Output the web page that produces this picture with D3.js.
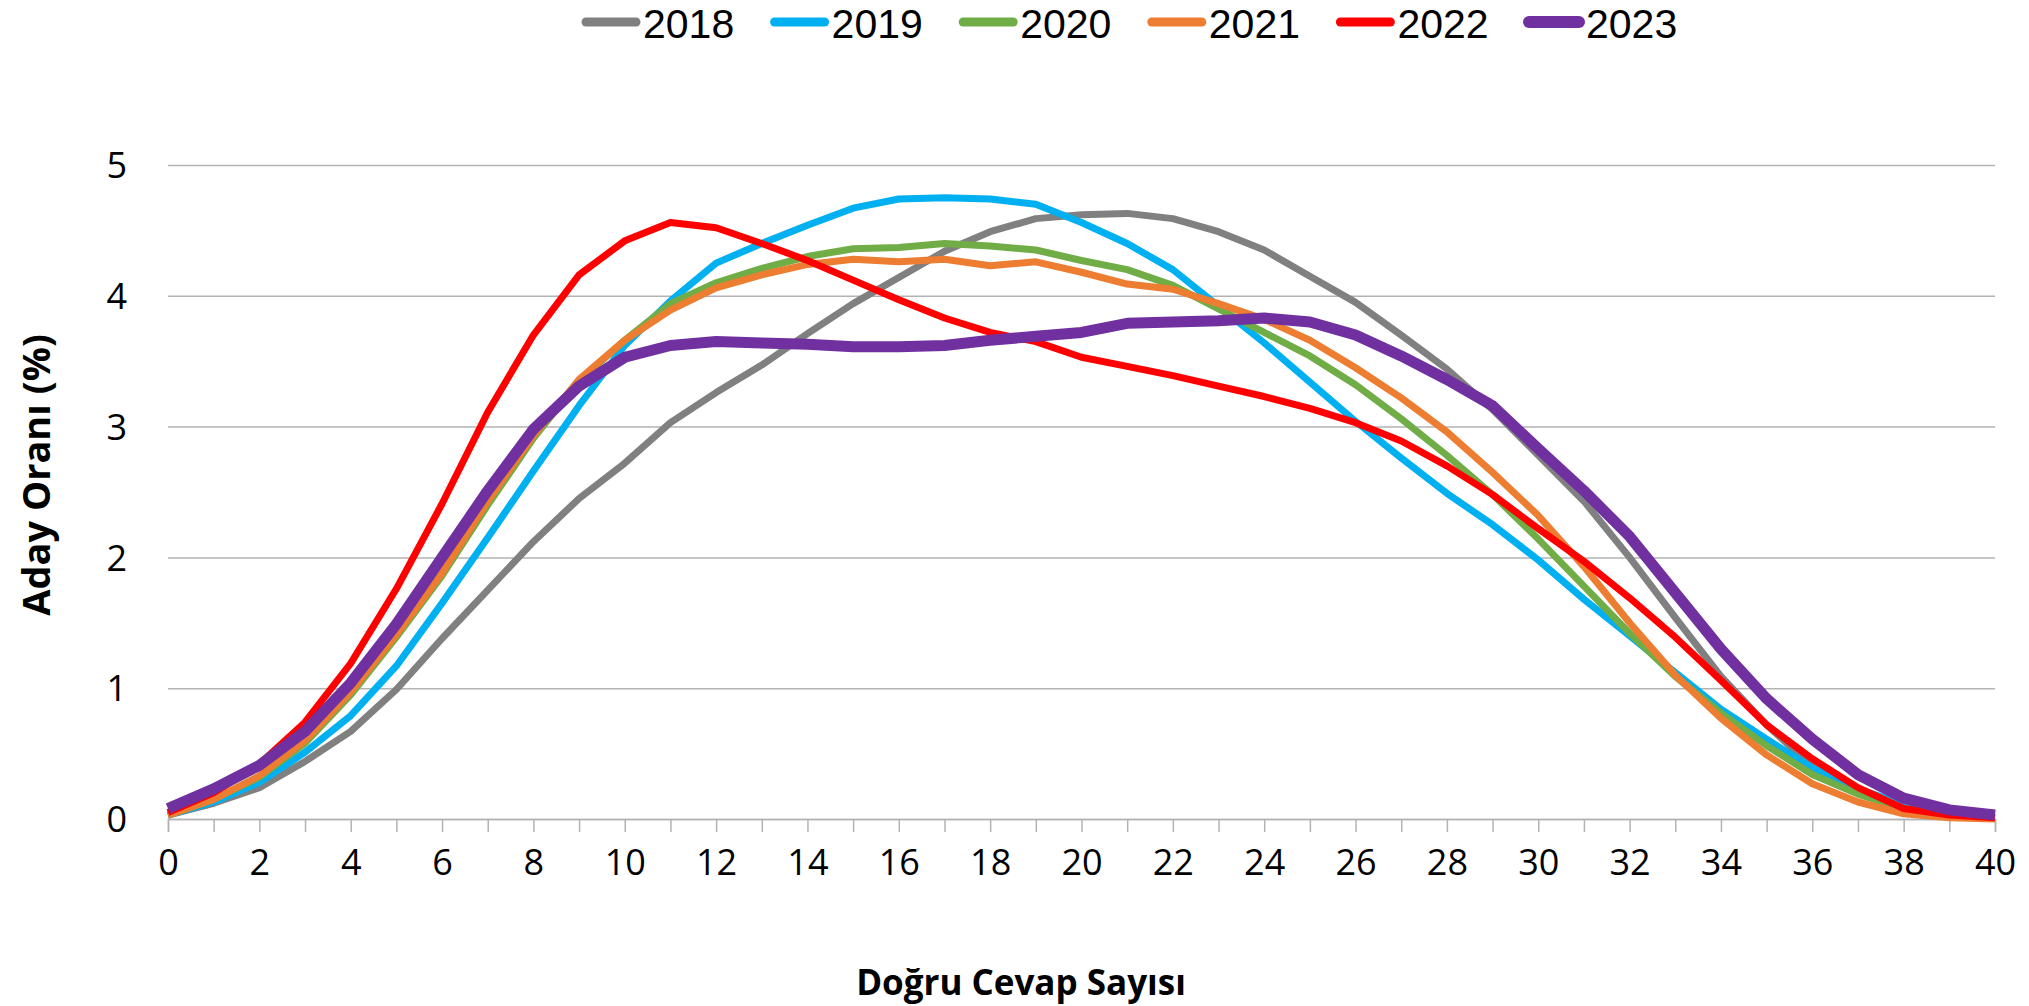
<!DOCTYPE html>
<html>
<head>
<meta charset="utf-8">
<script src="https://cdn.jsdelivr.net/npm/d3@7"></script>
<style>
  body { margin: 0; background: #fff; }
  svg text { font-family: "Open Sans", "Noto Sans", sans-serif; fill: #000; }
  svg text.legend-label { font-family: "Liberation Sans", Arial, sans-serif; }
</style>
</head>
<body>
<svg id="chart" width="2029" height="1006"></svg>
<script>
// number of correct answers, 0..40
var answers = d3.range(0, 41);
var years = ["2018", "2019", "2020", "2021", "2022", "2023"];
var colors = ["#808080", "#00B0F0", "#70AD47", "#ED7D31", "#FF0000", "#7030A0"];

var v2018 = [0.03, 0.12, 0.24, 0.44, 0.67, 0.99, 1.38, 1.75, 2.12, 2.45, 2.72, 3.03, 3.26, 3.47, 3.71, 3.94, 4.14, 4.34, 4.49, 4.59, 4.62,
             4.63, 4.59, 4.49, 4.35, 4.15, 3.95, 3.70, 3.44, 3.13, 2.78, 2.43, 2.00, 1.54, 1.09, 0.72, 0.40, 0.20, 0.08, 0.03, 0.01];
var v2019 = [0.03, 0.13, 0.28, 0.51, 0.79, 1.17, 1.65, 2.15, 2.66, 3.16, 3.62, 3.96, 4.25, 4.40, 4.54, 4.67, 4.74, 4.75, 4.74, 4.70, 4.56,
             4.40, 4.20, 3.92, 3.64, 3.34, 3.04, 2.76, 2.49, 2.25, 1.98, 1.68, 1.40, 1.12, 0.84, 0.61, 0.39, 0.23, 0.11, 0.04, 0.01];
var v2020 = [0.03, 0.15, 0.32, 0.58, 0.95, 1.39, 1.86, 2.40, 2.91, 3.35, 3.66, 3.94, 4.10, 4.21, 4.30, 4.36, 4.37, 4.40, 4.38, 4.35, 4.27,
             4.20, 4.08, 3.90, 3.72, 3.54, 3.32, 3.06, 2.78, 2.48, 2.14, 1.78, 1.42, 1.09, 0.81, 0.56, 0.34, 0.19, 0.08, 0.03, 0.01];
var v2021 = [0.03, 0.15, 0.33, 0.60, 0.97, 1.41, 1.88, 2.43, 2.93, 3.36, 3.66, 3.89, 4.06, 4.16, 4.24, 4.28, 4.26, 4.28, 4.23, 4.26, 4.18,
             4.09, 4.05, 3.94, 3.82, 3.66, 3.45, 3.22, 2.96, 2.65, 2.32, 1.93, 1.50, 1.10, 0.77, 0.49, 0.27, 0.13, 0.04, 0.01, 0.00];
var v2022 = [0.05, 0.20, 0.42, 0.74, 1.19, 1.76, 2.41, 3.11, 3.70, 4.16, 4.42, 4.56, 4.52, 4.40, 4.27, 4.12, 3.97, 3.83, 3.72, 3.65, 3.53,
             3.46, 3.39, 3.31, 3.23, 3.14, 3.03, 2.89, 2.70, 2.48, 2.22, 1.97, 1.69, 1.39, 1.06, 0.72, 0.46, 0.24, 0.08, 0.03, 0.01];
var v2023 = [0.08, 0.23, 0.41, 0.67, 1.04, 1.49, 2.00, 2.51, 2.98, 3.31, 3.53, 3.62, 3.65, 3.64, 3.63, 3.61, 3.61, 3.62, 3.66, 3.69, 3.72,
             3.79, 3.80, 3.81, 3.83, 3.80, 3.70, 3.54, 3.36, 3.16, 2.83, 2.51, 2.16, 1.73, 1.30, 0.92, 0.61, 0.34, 0.16, 0.07, 0.03];
var series = [v2018, v2019, v2020, v2021, v2022, v2023];

var yTicks = [0, 1, 2, 3, 4, 5];

var svg = d3.select('#chart');
var plotLeft = 168, plotRight = 1995, plotTop = 165, plotBottom = 819;

var x = d3.scaleLinear().domain([0, 40]).range([plotLeft, plotRight]);
var y = d3.scaleLinear().domain([0, 5]).range([plotBottom, plotTop]);

// horizontal gridlines + y labels
var yAxis = svg.append('g')
    .attr('transform', 'translate(' + plotLeft + ',0)')
    .call(d3.axisLeft(y).tickValues(yTicks).tickFormat(d3.format('d'))
        .tickSize(-(plotRight - plotLeft)).tickPadding(41));
yAxis.select('.domain').remove();
yAxis.selectAll('line').attr('stroke', '#B3B3B3').attr('stroke-width', 1.5);
yAxis.selectAll('text').attr('font-size', 36).attr('dy', '0.35em');

// x axis with a tick at every answer count, label every second one
var xAxis = svg.append('g')
    .attr('transform', 'translate(0,' + plotBottom + ')')
    .call(d3.axisBottom(x).tickValues(answers).tickSize(13).tickPadding(17)
        .tickFormat(function(d) { return d % 2 === 0 ? d : ''; }));
xAxis.select('.domain').attr('stroke', '#B3B3B3').attr('stroke-width', 1.5);
xAxis.selectAll('line').attr('stroke', '#B3B3B3').attr('stroke-width', 1.5);
xAxis.selectAll('text').attr('font-size', 36);

// lines
var line = d3.line()
    .x(function(d, i) { return x(answers[i]); })
    .y(function(d) { return y(d); });

svg.append('g').selectAll('path')
    .data(series).enter()
    .append('path')
    .attr('d', line)
    .attr('fill', 'none')
    .attr('stroke', function(d, i) { return colors[i]; })
    .attr('stroke-width', function(d, i) { return i === 5 ? 11 : 7; })
    .attr('stroke-linejoin', 'round');

// legend
var legend = svg.append('g').selectAll('g')
    .data(years).enter()
    .append('g')
    .attr('transform', function(d, i) { return 'translate(' + (582 + i * 188.6) + ',0)'; });
legend.append('line')
    .attr('x1', 4).attr('x2', 54)
    .attr('y1', 22).attr('y2', 22)
    .attr('stroke', function(d, i) { return colors[i]; })
    .attr('stroke-width', function(d, i) { return i === 5 ? 12 : 9; })
    .attr('stroke-linecap', 'round');
legend.append('text')
    .attr('class', 'legend-label')
    .attr('x', 61).attr('y', 38)
    .attr('font-size', 41)
    .text(function(d) { return d; });

// axis titles
svg.append('text')
    .attr('x', 1021).attr('y', 995)
    .attr('text-anchor', 'middle')
    .attr('font-size', 35).attr('font-weight', 'bold')
    .text('Doğru Cevap Sayısı');
svg.append('text')
    .attr('transform', 'translate(50,475) rotate(-90)')
    .attr('text-anchor', 'middle')
    .attr('font-size', 38).attr('font-weight', 'bold')
    .text('Aday Oranı (%)');
</script>
</body>
</html>
